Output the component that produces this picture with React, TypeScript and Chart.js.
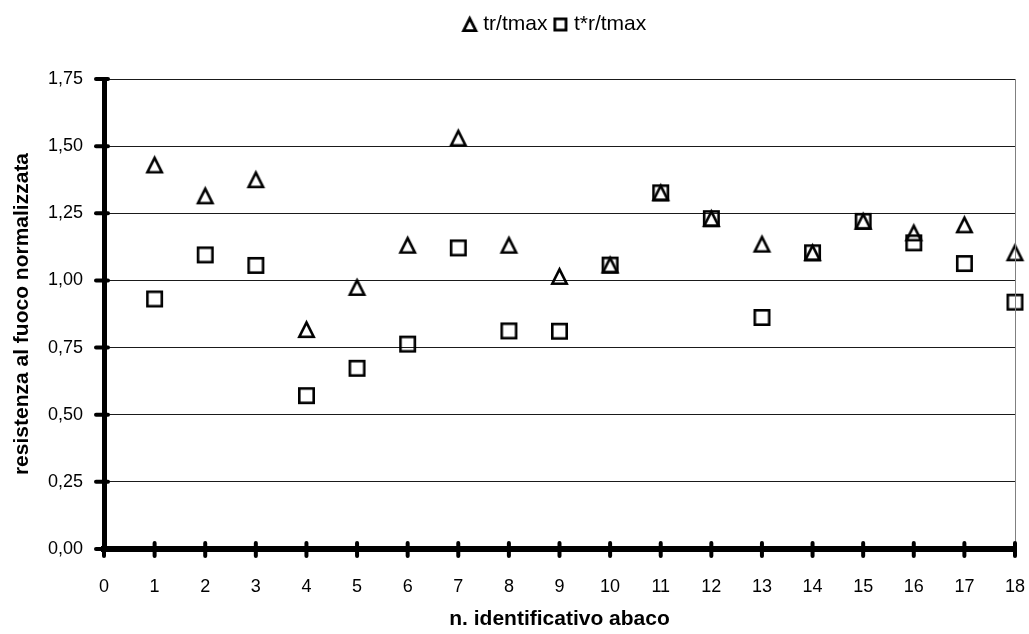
import React, { useEffect, useRef } from "react";
import { Chart, registerables } from "chart.js";

Chart.register(...registerables);

const abacoIds = [1, 2, 3, 4, 5, 6, 7, 8, 9, 10, 11, 12, 13, 14, 15, 16, 17, 18];
const trSeries = [1.43, 1.315, 1.375, 0.817, 0.974, 1.131, 1.53, 1.131, 1.015, 1.057, 1.326, 1.23, 1.135, 1.103, 1.22, 1.177, 1.207, 1.103];
const tStarSeries = [0.931, 1.095, 1.056, 0.571, 0.673, 0.763, 1.121, 0.812, 0.811, 1.057, 1.326, 1.23, 0.862, 1.103, 1.22, 1.14, 1.063, 0.919];
const seriesLabels = ["tr/tmax", "t*r/tmax"];
const xTitle = "n. identificativo abaco";
const yTitle = "resistenza al fuoco normalizzata";

function makeTriangle(size: number, lw: number): HTMLCanvasElement {
  const c = document.createElement("canvas");
  c.width = size + 6;
  c.height = size + 6;
  const ctx = c.getContext("2d")!;
  const cx = c.width / 2;
  const cy = c.height / 2;
  const h = size - lw;
  ctx.strokeStyle = "#000";
  ctx.lineWidth = lw;
  ctx.lineJoin = "miter";
  ctx.beginPath();
  ctx.moveTo(cx, cy - h / 2);
  ctx.lineTo(cx + h / 2, cy + h / 2);
  ctx.lineTo(cx - h / 2, cy + h / 2);
  ctx.closePath();
  ctx.stroke();
  return c;
}

function makeSquare(size: number, lw: number): HTMLCanvasElement {
  const c = document.createElement("canvas");
  c.width = size + 6;
  c.height = size + 6;
  const ctx = c.getContext("2d")!;
  const s = size - lw;
  ctx.strokeStyle = "#000";
  ctx.lineWidth = lw;
  ctx.strokeRect((c.width - s) / 2, (c.height - s) / 2, s, s);
  return c;
}

export default function App() {
  const ref = useRef<HTMLCanvasElement | null>(null);

  useEffect(() => {
    if (!ref.current) return;
    const triBig = makeTriangle(17, 2.6);
    const sqBig = makeSquare(17, 2.6);
    const triSmall = makeTriangle(15, 2.8);
    const sqSmall = makeSquare(14, 2.8);

    const layoutFix = {
      id: "layoutFix",
      beforeLayout(chart: any) {
        const lg = chart.legend;
        if (lg && !lg.__patched) {
          const orig = lg.fit;
          lg.fit = function () {
            orig.call(this);
            this.height = 79;
          };
          lg.__patched = true;
        }
      },
      afterLayout(chart: any) {
        const lg = chart.legend;
        if (lg) {
          lg.left = chart.chartArea.left - 6;
          lg.right = chart.chartArea.right;
          lg.width = lg.right - lg.left;
          lg.top = 4;
          lg.bottom = 79;
        }
      },
      afterDraw(chart: any) {
        const { ctx, chartArea } = chart;
        const xs = chart.scales.x;
        const ys = chart.scales.y;
        ctx.save();
        ctx.strokeStyle = "#808080";
        ctx.lineWidth = 1;
        ctx.beginPath();
        ctx.moveTo(Math.round(chartArea.right) + 0.5, chartArea.top);
        ctx.lineTo(Math.round(chartArea.right) + 0.5, chartArea.bottom);
        ctx.stroke();
        ctx.strokeStyle = "#000";
        ctx.lineWidth = 4;
        ctx.lineCap = "round";
        xs.ticks.forEach((_t: any, i: number) => {
          const px = xs.getPixelForTick(i);
          ctx.beginPath();
          ctx.moveTo(px, xs.top - 6);
          ctx.lineTo(px, xs.top + 7);
          ctx.stroke();
        });
        ys.ticks.forEach((_t: any, i: number) => {
          const py = ys.getPixelForTick(i);
          ctx.beginPath();
          ctx.moveTo(ys.right - 8, py);
          ctx.lineTo(ys.right + 4, py);
          ctx.stroke();
        });
        ctx.restore();
      },
    };

    const chart = new Chart(ref.current, {
      type: "scatter",
      data: {
        datasets: [
          {
            label: seriesLabels[0],
            data: abacoIds.map((x, i) => ({ x, y: trSeries[i] })),
            pointStyle: triBig as any,
            pointRadius: 9,
            borderColor: "#000",
            backgroundColor: "rgba(0,0,0,0)",
            clip: false as any,
          },
          {
            label: seriesLabels[1],
            data: abacoIds.map((x, i) => ({ x, y: tStarSeries[i] })),
            pointStyle: sqBig as any,
            pointRadius: 9,
            borderColor: "#000",
            backgroundColor: "rgba(0,0,0,0)",
            clip: false as any,
          },
        ],
      },
      options: {
        animation: false,
        responsive: false,
        devicePixelRatio: 1,
        events: [],
        layout: { autoPadding: false, padding: { top: 0, left: 0, right: 14, bottom: 0 } } as any,
        plugins: {
          tooltip: { enabled: false },
          legend: {
            display: true,
            position: "top",
            align: "center",
            labels: {
              usePointStyle: true,
              pointStyleWidth: 6,
              padding: 10,
              color: "#000",
              font: { family: "Arial, 'Liberation Sans', sans-serif", size: 21 },
              generateLabels: (ch: any) => {
                const items = Chart.defaults.plugins.legend.labels.generateLabels(ch);
                return items.map((it: any, i: number) => ({
                  ...it,
                  pointStyle: i === 0 ? triSmall : sqSmall,
                }));
              },
            },
          },
        },
        scales: {
          x: {
            type: "linear",
            min: 0,
            max: 18,
            afterFit: (s: any) => {
              s.height = 85;
              s.paddingRight = 0;
            },
            ticks: {
              stepSize: 1,
              padding: 27,
              color: "#000",
              font: { family: "Arial, 'Liberation Sans', sans-serif", size: 18 },
              maxRotation: 0,
              autoSkip: false,
            },
            grid: { display: true, drawOnChartArea: false, drawTicks: false },
            border: { display: true, color: "#000", width: 6 },
            title: {
              display: true,
              text: xTitle,
              color: "#000",
              font: { family: "Arial, 'Liberation Sans', sans-serif", size: 21, weight: "bold" },
              padding: { top: 0, bottom: 2 },
            },
          },
          y: {
            type: "linear",
            min: 0,
            max: 1.75,
            afterFit: (s: any) => {
              s.width = 104;
            },
            ticks: {
              stepSize: 0.25,
              padding: 21,
              color: "#000",
              font: { family: "Arial, 'Liberation Sans', sans-serif", size: 18 },
              callback: (v: any) => Number(v).toFixed(2).replace(".", ","),
            },
            grid: { color: "#1a1a1a", lineWidth: 1, drawTicks: false },
            border: { display: true, color: "#000", width: 5 },
            title: {
              display: true,
              text: yTitle,
              color: "#000",
              font: { family: "Arial, 'Liberation Sans', sans-serif", size: 21, weight: "bold" },
              padding: { top: 10, bottom: 0 },
            },
          },
        },
      },
      plugins: [layoutFix],
    });

    return () => {
      chart.destroy();
    };
  }, []);

  return (
    <div style={{ position: "absolute", left: 0, top: 0, width: 1029, height: 634, background: "#fff" }}>
      <canvas ref={ref} width={1029} height={634} style={{ display: "block", width: 1029, height: 634 }} />
    </div>
  );
}
